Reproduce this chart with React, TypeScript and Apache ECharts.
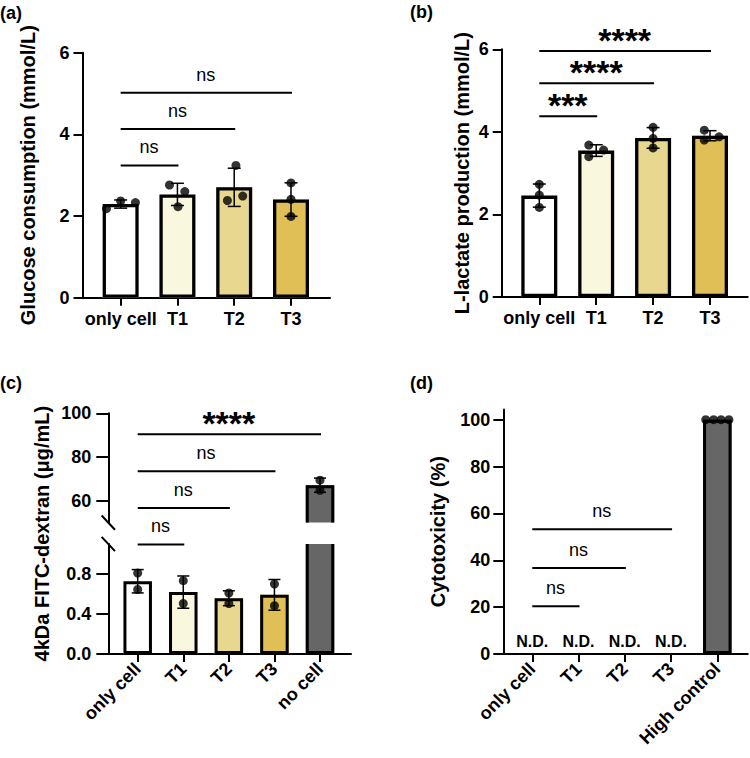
import React, { useEffect, useRef } from "react";
import * as echarts from "echarts";

const FONT = "'Liberation Sans', Arial, Helvetica, sans-serif";

// Group names per panel
const groupsAB = ["only cell", "T1", "T2", "T3"];
const groupsC = ["only cell", "T1", "T2", "T3", "no cell"];
const groupsD = ["only cell", "T1", "T2", "T3", "High control"];

// (a) Glucose consumption (mmol/L), replicate wells per group
const glucose = [
  [2.18, 2.37, 2.33],
  [2.76, 2.6, 2.23],
  [2.38, 2.49, 3.24],
  [2.81, 2.41, 1.99],
];
const glucoseJitter = [
  [-0.25, 0, 0.26],
  [-0.14, 0.13, 0.01],
  [-0.12, 0.15, 0.03],
  [0, 0, 0],
];

// (b) L-lactate production (mmol/L)
const lactate = [
  [2.73, 2.47, 2.17],
  [3.68, 3.4, 3.56],
  [4.11, 3.84, 3.61],
  [4.04, 3.8, 3.88],
];
const lactateJitter = [
  [0, 0, 0],
  [-0.13, -0.13, 0.13],
  [0, 0, 0],
  [-0.1, -0.1, 0.16],
];

// (c) 4kDa FITC-dextran permeation (µg/mL)
const dextran = [
  [0.81, 0.645],
  [0.733, 0.505],
  [0.61, 0.505],
  [0.7, 0.483],
  [69.4, 64.8],
];
const dextranJitter = [
  [0, 0],
  [0, 0],
  [0, 0],
  [0, 0],
  [0, 0],
];

// (d) Cytotoxicity (%): only the high control is detectable
const cytoHighControl = [100, 100, 100, 100];
const cytoHighJitter = [-0.25, -0.08, 0.08, 0.25];
const highControlIndex = 4;
const notDetected = [0, 1, 2, 3];

// Tick values
const ticksAB = [0, 2, 4, 6];
const ticksCUpper = [60, 80, 100];
const ticksCLower = [0, 0.4, 0.8];
const ticksD = [0, 20, 40, 60, 80, 100];

// Pairwise comparisons: [from group, to group, height]
const sigA = [
  [0, 1, 3.24],
  [0, 2, 4.13],
  [0, 3, 5.02],
];
const sigALabels = ["ns", "ns", "ns"];
const sigB = [
  [0, 1, 4.38],
  [0, 2, 5.18],
  [0, 3, 5.96],
];
const sigBLabels = ["***", "****", "****"];
const sigC = [
  [0, 1, 40],
  [0, 2, 56.7],
  [0, 3, 73.5],
  [0, 4, 90.4],
];
const sigCLabels = ["ns", "ns", "ns", "****"];
const sigD = [
  [0, 1, 20.4],
  [0, 2, 36.7],
  [0, 3, 53.2],
];
const sigDLabels = ["ns", "ns", "ns"];

const barColors = ["#ffffff", "#faf7df", "#e8d88f", "#dfbf56", "#666666"];

// Layout of the plotting areas (px)
const PA = { left: 82.5, top: 52.7, width: 247.5, height: 245, xMin: -0.672, xMax: 3.687 };
const PB = { left: 501.7, top: 49.3, width: 246, height: 247.7, xMin: -0.661, xMax: 3.663 };
const PCU = { left: 108.3, top: 413.3, width: 242.7, height: 109.3, xMin: -0.645, xMax: 4.68 };
const PCL = { left: 108.3, top: 544, width: 242.7, height: 110, xMin: -0.645, xMax: 4.68 };
const PD = { left: 503.3, top: 409.4, width: 244.4, height: 244.6, xMin: -0.627, xMax: 4.657 };

const mean = (a: number[]) => a.reduce((s, v) => s + v, 0) / a.length;
const sd = (a: number[]) => {
  if (a.length < 2) return 0;
  const m = mean(a);
  return Math.sqrt(a.reduce((s, v) => s + (v - m) * (v - m), 0) / (a.length - 1));
};

const BLACK = "#000";

function textStyle(text: string, size: number, weight: string) {
  return {
    text,
    fill: BLACK,
    font: `${weight} ${size}px ${FONT}`,
    align: "center",
    verticalAlign: "middle",
    textAlign: "center",
    textVerticalAlign: "middle",
  };
}

// Bar drawn with its outline inside the bar rectangle; edges cut by the axis break get no outline
function barSeries(axis: number, groups: number[], values: number[], w: number, bw: number) {
  return {
    type: "custom",
    xAxisIndex: axis,
    yAxisIndex: axis,
    silent: true,
    clip: false,
    z: 2,
    data: groups.map((g) => [g, values[g], g]),
    renderItem: (params: any, api: any) => {
      const x = api.value(0);
      const v = api.value(1);
      const color = barColors[api.value(2)];
      const cs = params.coordSys;
      const p0 = api.coord([x, 0]);
      const p1 = api.coord([x, v]);
      const gTop = cs.y;
      const gBot = cs.y + cs.height;
      const rawTop = Math.min(p0[1], p1[1]);
      const rawBot = Math.max(p0[1], p1[1]);
      const top = Math.max(rawTop, gTop);
      const bot = Math.min(rawBot, gBot);
      if (bot - top <= 0.5) return null;
      const l = p0[0] - w / 2;
      const r = p0[0] + w / 2;
      const h = bw / 2;
      const topCut = rawTop < gTop - 0.01;
      const botCut = rawBot > gBot + 0.01;
      const yT = topCut ? top : top + h;
      const yB = botCut ? bot : bot - h;
      const stroke = { fill: "none", stroke: BLACK, lineWidth: bw, lineJoin: "miter" };
      const children: any[] = [
        { type: "rect", shape: { x: l, y: top, width: w, height: bot - top }, style: { fill: color } },
      ];
      if (!topCut && !botCut) {
        children.push({
          type: "polygon",
          shape: { points: [[l + h, yT], [r - h, yT], [r - h, yB], [l + h, yB]] },
          style: stroke,
        });
      } else if (topCut && !botCut) {
        children.push({
          type: "polyline",
          shape: { points: [[l + h, yT], [l + h, yB], [r - h, yB], [r - h, yT]] },
          style: stroke,
        });
      } else if (!topCut && botCut) {
        children.push({
          type: "polyline",
          shape: { points: [[l + h, yB], [l + h, yT], [r - h, yT], [r - h, yB]] },
          style: stroke,
        });
      } else {
        children.push({ type: "line", shape: { x1: l + h, y1: yT, x2: l + h, y2: yB }, style: stroke });
        children.push({ type: "line", shape: { x1: r - h, y1: yT, x2: r - h, y2: yB }, style: stroke });
      }
      return { type: "group", children };
    },
  };
}

// Mean ± SD whiskers
function errorSeries(axis: number, groups: number[], reps: number[][], cap: number) {
  return {
    type: "custom",
    xAxisIndex: axis,
    yAxisIndex: axis,
    silent: true,
    clip: false,
    z: 3,
    data: groups.map((g) => {
      const m = mean(reps[g]);
      const s = sd(reps[g]);
      return [g, m - s, m + s];
    }),
    renderItem: (_params: any, api: any) => {
      const x = api.value(0);
      const lo = api.value(1);
      const hi = api.value(2);
      if (hi - lo <= 1e-9) return null;
      const a = api.coord([x, lo]);
      const b = api.coord([x, hi]);
      const st = { stroke: BLACK, lineWidth: 1.5 };
      return {
        type: "group",
        children: [
          { type: "line", shape: { x1: a[0], y1: a[1], x2: b[0], y2: b[1] }, style: st },
          { type: "line", shape: { x1: a[0] - cap / 2, y1: a[1], x2: a[0] + cap / 2, y2: a[1] }, style: st },
          { type: "line", shape: { x1: b[0] - cap / 2, y1: b[1], x2: b[0] + cap / 2, y2: b[1] }, style: st },
        ],
      };
    },
  };
}

function dotSeries(axis: number, points: number[][]) {
  return {
    type: "scatter",
    xAxisIndex: axis,
    yAxisIndex: axis,
    silent: true,
    symbol: "circle",
    symbolSize: 9,
    itemStyle: { color: BLACK },
    z: 4,
    data: points,
  };
}

function groupDots(groups: number[], reps: number[][], jitter: number[][]) {
  const data: number[][] = [];
  groups.forEach((g) => reps[g].forEach((v, i) => data.push([g + jitter[g][i], v])));
  return data;
}

// Comparison lines with their significance labels
function sigSeries(axis: number, rows: number[][], labels: string[]) {
  return {
    type: "custom",
    xAxisIndex: axis,
    yAxisIndex: axis,
    silent: true,
    clip: false,
    z: 3,
    data: rows,
    renderItem: (params: any, api: any) => {
      const a = api.coord([api.value(0), api.value(2)]);
      const b = api.coord([api.value(1), api.value(2)]);
      const label = labels[params.dataIndex];
      const stars = label.indexOf("*") >= 0;
      return {
        type: "group",
        children: [
          {
            type: "line",
            shape: { x1: a[0], y1: a[1], x2: b[0] + 1, y2: b[1] },
            style: { stroke: BLACK, lineWidth: 2 },
          },
          {
            type: "text",
            x: (a[0] + b[0]) / 2,
            y: a[1] - (stars ? 11 : 18),
            style: stars ? textStyle(label, 34, "bold") : textStyle(label, 18, "normal"),
          },
        ],
      };
    },
  };
}

function ndSeries(axis: number, groups: number[]) {
  return {
    type: "custom",
    xAxisIndex: axis,
    yAxisIndex: axis,
    silent: true,
    clip: false,
    z: 3,
    data: groups.map((g) => [g, 0]),
    renderItem: (_params: any, api: any) => {
      const p = api.coord([api.value(0), api.value(1)]);
      return { type: "text", x: p[0], y: p[1] - 13, style: textStyle("N.D.", 16, "bold") };
    },
  };
}

const axisLine = { show: true, onZero: false, lineStyle: { color: BLACK, width: 2 } };
const labelFont = { color: BLACK, fontFamily: FONT, fontSize: 18, fontWeight: "bold" };

function xAxis(grid: number, p: any, names: string[], rotate: number) {
  const idx = names.map((_n, i) => i);
  return {
    type: "value",
    gridIndex: grid,
    min: p.xMin,
    max: p.xMax,
    splitLine: { show: false },
    axisLine,
    axisTick: { show: true, length: 8, lineStyle: { color: BLACK, width: 2 }, customValues: idx },
    axisLabel: {
      ...labelFont,
      customValues: idx,
      rotate,
      margin: 12,
      formatter: (v: number) => names[Math.round(v)] ?? "",
    },
  };
}

function yAxis(grid: number, min: number, max: number, ticks: number[], o: any) {
  return {
    type: "value",
    gridIndex: grid,
    min,
    max,
    splitLine: { show: false },
    axisLine,
    axisTick: { show: true, length: o.tick, lineStyle: { color: BLACK, width: 2 }, customValues: ticks },
    axisLabel: {
      ...labelFont,
      customValues: ticks,
      margin: o.margin,
      formatter: o.fmt || ((v: number) => String(v)),
    },
    name: o.name,
    nameLocation: "middle",
    nameGap: o.nameGap,
    nameRotate: 90,
    nameTextStyle: { color: BLACK, fontFamily: FONT, fontSize: 20, fontWeight: "bold" },
  };
}

const gridOf = (p: any) => ({
  left: p.left,
  top: p.top,
  width: p.width,
  height: p.height,
  containLabel: false,
  outerBoundsMode: "none",
});

export default function App() {
  const ref = useRef<HTMLDivElement>(null);

  useEffect(() => {
    if (!ref.current) return;
    const chart = echarts.init(ref.current, null, { renderer: "svg" });

    const gAB = [0, 1, 2, 3];
    const cLow = [0, 1, 2, 3];
    const cHigh = [4];
    const allC = [0, 1, 2, 3, 4];
    const glucoseMeans = glucose.map(mean);
    const lactateMeans = lactate.map(mean);
    const dextranMeans = dextran.map(mean);
    const cytoMeans: number[] = [];
    cytoMeans[highControlIndex] = mean(cytoHighControl);
    const highDots = cytoHighControl.map((v, i) => [highControlIndex + cytoHighJitter[i], v]);

    // break marks on the (c) value axis
    const dx = 6.65;
    const dy = 7.15;
    const brkTop = PCU.top + PCU.height;
    const brkBot = PCL.top;
    const panelFont = `bold 18px ${FONT}`;

    const option: any = {
      animation: false,
      backgroundColor: "#ffffff",
      grid: [gridOf(PA), gridOf(PB), gridOf(PCU), gridOf(PCL), gridOf(PD)],
      xAxis: [
        xAxis(0, PA, groupsAB, 0),
        xAxis(1, PB, groupsAB, 0),
        { ...xAxis(2, PCU, groupsC, 45), show: false },
        xAxis(3, PCL, groupsC, 45),
        xAxis(4, PD, groupsD, 45),
      ],
      yAxis: [
        yAxis(0, 0, 6, ticksAB, { tick: 9, margin: 13, name: "Glucose consumption (mmol/L)", nameGap: 45 }),
        yAxis(1, 0, 6, ticksAB, { tick: 9, margin: 13, name: "L-lactate production (mmol/L)", nameGap: 30 }),
        yAxis(2, 50, 100, ticksCUpper, { tick: 12, margin: 17, name: "", nameGap: 0 }),
        yAxis(3, 0, 1.1, ticksCLower, {
          tick: 12,
          margin: 17,
          name: "",
          nameGap: 0,
          fmt: (v: number) => v.toFixed(1),
        }),
        yAxis(4, 0, 104.4, ticksD, { tick: 10, margin: 13, name: "Cytotoxicity (%)", nameGap: 55 }),
      ],
      series: [
        // (a)
        barSeries(0, gAB, glucoseMeans, 36, 3.3),
        errorSeries(0, gAB, glucose, 13),
        dotSeries(0, groupDots(gAB, glucose, glucoseJitter)),
        sigSeries(0, sigA, sigALabels),
        // (b)
        barSeries(1, gAB, lactateMeans, 36, 3.3),
        errorSeries(1, gAB, lactate, 13),
        dotSeries(1, groupDots(gAB, lactate, lactateJitter)),
        sigSeries(1, sigB, sigBLabels),
        // (c) upper segment of the broken axis
        barSeries(2, allC, dextranMeans, 28.5, 3),
        errorSeries(2, cHigh, dextran, 12),
        dotSeries(2, groupDots(cHigh, dextran, dextranJitter)),
        sigSeries(2, sigC, sigCLabels),
        // (c) lower segment
        barSeries(3, allC, dextranMeans, 28.5, 3),
        errorSeries(3, cLow, dextran, 12),
        dotSeries(3, groupDots(cLow, dextran, dextranJitter)),
        // (d)
        barSeries(4, [highControlIndex], cytoMeans, 28.5, 3),
        dotSeries(4, highDots),
        ndSeries(4, notDetected),
        sigSeries(4, sigD, sigDLabels),
      ],
      graphic: [
        { type: "text", x: 0, y: 4, style: { text: "(a)", fill: BLACK, font: panelFont } },
        { type: "text", x: 410, y: 3, style: { text: "(b)", fill: BLACK, font: panelFont } },
        { type: "text", x: 0, y: 374, style: { text: "(c)", fill: BLACK, font: panelFont } },
        { type: "text", x: 410, y: 374, style: { text: "(d)", fill: BLACK, font: panelFont } },
        {
          type: "text",
          x: 42,
          y: (PCU.top + PCL.top + PCL.height) / 2,
          rotation: Math.PI / 2,
          style: textStyle("4kDa FITC-dextran (μg/mL)", 20, "bold"),
        },
        {
          type: "line",
          shape: { x1: PCU.left - dx, y1: brkTop - dy, x2: PCU.left + dx, y2: brkTop + dy },
          style: { stroke: BLACK, lineWidth: 2 },
        },
        {
          type: "line",
          shape: { x1: PCL.left - dx, y1: brkBot - dy, x2: PCL.left + dx, y2: brkBot + dy },
          style: { stroke: BLACK, lineWidth: 2 },
        },
      ],
    };

    chart.setOption(option);
    return () => chart.dispose();
  }, []);

  return (
    <div
      ref={ref}
      style={{ position: "fixed", left: 0, top: 0, width: 750, height: 758, background: "#fff" }}
    />
  );
}
